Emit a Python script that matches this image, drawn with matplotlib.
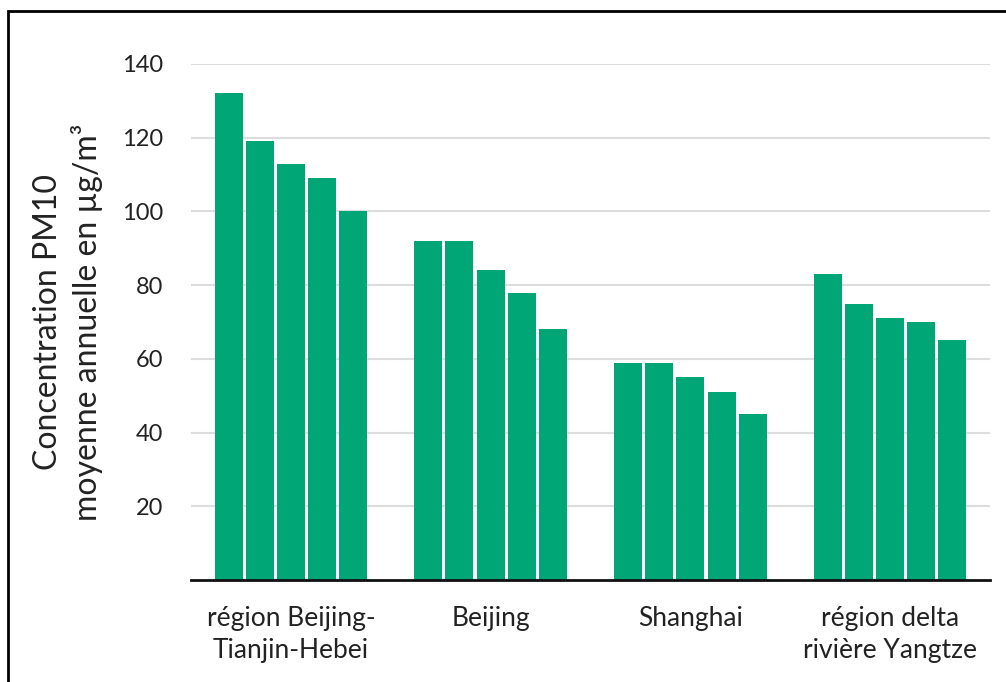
"""PM10 : concentration moyenne annuelle par région (barres groupées)."""
import matplotlib
matplotlib.use("Agg")
import matplotlib.pyplot as plt
from matplotlib.patches import Rectangle
import numpy as np

groupes = ["région Beijing-\nTianjin-Hebei", "Beijing", "Shanghai",
           "région delta\nrivière Yangtze"]
beijing_tianjin_hebei = [132, 119, 113, 109, 100]
beijing = [92, 92, 84, 78, 68]
shanghai = [59, 59, 55, 51, 45]
delta_yangtze = [83, 75, 71, 70, 65]
y_ticks = [20, 40, 60, 80, 100, 120, 140]

series = [beijing_tianjin_hebei, beijing, shanghai, delta_yangtze]
vert = "#00a676"

plt.rcParams["font.family"] = ["Lato", "DejaVu Sans"]

fig = plt.figure(figsize=(10.06, 6.82), dpi=100)
ax = fig.add_axes([191 / 1006, 1 - 580 / 682, 799 / 1006, 516 / 682])

step = 0.156
width = 0.14
for i, vals in enumerate(series):
    x = i + (np.arange(len(vals)) - 2) * step
    ax.bar(x, vals, width, color=vert, zorder=2)

ax.set_xlim(-0.5, 3.5)
ax.set_ylim(0, 140)
ax.set_yticks(y_ticks)
ax.set_yticklabels([str(t) for t in y_ticks], fontsize=17, color="#222222")
ax.yaxis.grid(True, color="#dddddd", lw=1.5, zorder=0)
ax.set_xticks(range(len(groupes)))
ax.set_xticklabels(groupes, fontsize=19, color="#222222", linespacing=1.35)
ax.tick_params(length=0)
ax.tick_params(axis="y", pad=20)
ax.tick_params(axis="x", pad=19)
for s in ("top", "right", "left"):
    ax.spines[s].set_visible(False)
ax.spines["bottom"].set_linewidth(2)
ax.spines["bottom"].set_color("#111111")
ax.spines["bottom"].set_zorder(3)

ax.set_ylabel("Concentration PM10\nmoyenne annuelle en µg/m³", fontsize=23,
              color="#222222", linespacing=1.3, labelpad=14)

# cadre autour de la figure
fig.patches.append(Rectangle((8 / 1006, -0.1), 1.2, 1.1 - 11 / 682,
                             transform=fig.transFigure, fill=False,
                             edgecolor="black", lw=2))

fig.savefig("out.png", dpi=100)
